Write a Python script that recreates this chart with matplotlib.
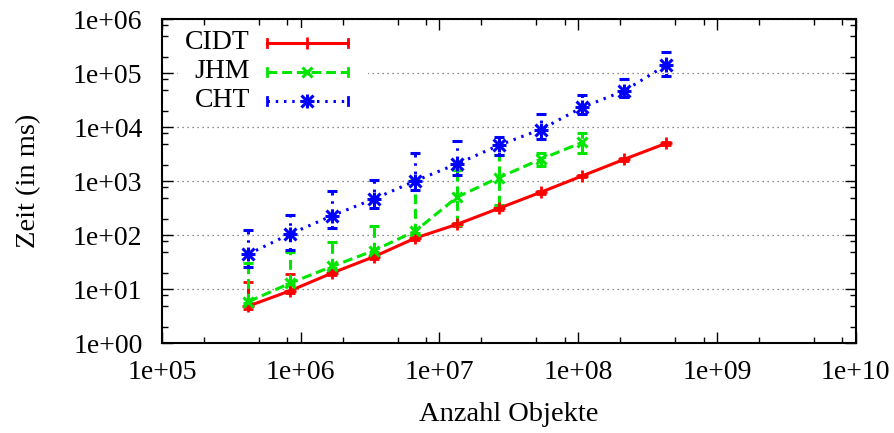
import numpy as np
import matplotlib
matplotlib.use("Agg")
import matplotlib.pyplot as plt
from matplotlib.ticker import FixedLocator, NullFormatter

# ---------------- data ----------------
n_objects = [4.2e5, 8.4e5, 1.68e6, 3.36e6, 6.7e6, 1.34e7, 2.68e7, 5.37e7, 1.07e8, 2.15e8, 4.3e8]

cidt = [4.9, 9.4, 20, 40, 89, 160, 316, 627, 1260, 2560, 5050]
cidt_low = [4.3, 8.6, 18.5, 37, 83, 150, 298, 590, 1190, 2420, 4780]
cidt_high = [13.4, 19.4, 22, 43, 95, 172, 335, 665, 1330, 2700, 5330]

jhm = [5.9, 13, 26.5, 52, 120, 510, 1170, 2560, 5270]
jhm_low = [5.5, 12.3, 25, 49, 112, 155, 365, 1920, 3390]
jhm_high = [31, 50, 74, 151, 1050, 1600, 3080, 3400, 7950]

cht = [45, 106, 230, 470, 1020, 2100, 4650, 9100, 23400, 47600, 141000]
cht_low = [26, 53, 137, 320, 700, 1320, 3100, 6100, 17400, 37000, 89000]
cht_high = [125, 240, 650, 1070, 3300, 5500, 6700, 18000, 39600, 78000, 251000]

series_names = ["CIDT", "JHM", "CHT"]

x_ticks = [1e5, 1e6, 1e7, 1e8, 1e9, 1e10]
x_ticklabels = ["1e+05", "1e+06", "1e+07", "1e+08", "1e+09", "1e+10"]
y_ticks = [1e0, 1e1, 1e2, 1e3, 1e4, 1e5, 1e6]
y_ticklabels = ["1e+00", "1e+01", "1e+02", "1e+03", "1e+04", "1e+05", "1e+06"]
x_label = "Anzahl Objekte"
y_label = "Zeit (in ms)"

# ---------------- style ----------------
plt.rcParams['font.family'] = ['Liberation Serif', 'DejaVu Serif']
FS = 20

W, H = 895, 433
L, R, T, B = 162, 855.7, 19.3, 343.3

fig = plt.figure(figsize=(W / 100, H / 100), dpi=100)
ax = fig.add_axes([L / W, (H - B) / H, (R - L) / W, (B - T) / H])
ax.set_xscale('log')
ax.set_yscale('log')
ax.set_xlim(1e5, 1e10)
ax.set_ylim(1e0, 1e6)

red = '#ff0000'
green = '#00e600'
blue = '#0000ff'
lw = 2.2

styles = [
    dict(color=red, ls='-', marker='+', ms=9, mew=2.0),
    dict(color=green, ls=(0, (3.2, 1.6)), marker='x', ms=7, mew=2.2),
    dict(color=blue, ls=(0, (0.8, 1.9)), marker='+', ms=10, mew=2.2),
]

data = [
    (n_objects[:len(cidt)], cidt, cidt_low, cidt_high),
    (n_objects[:len(jhm)], jhm, jhm_low, jhm_high),
    (n_objects[:len(cht)], cht, cht_low, cht_high),
]

for i, ((xs, ys, lo, hi), st) in enumerate(zip(data, styles)):
    ys_a = np.array(ys, float)
    yerr = [ys_a - np.array(lo, float), np.array(hi, float) - ys_a]
    line, caps, bars = ax.errorbar(xs, ys, yerr=yerr, color=st['color'], ls=st['ls'],
                                   lw=lw, marker=st['marker'], ms=st['ms'], mew=st['mew'],
                                   capsize=3.5, capthick=2.0, elinewidth=lw, zorder=3)
    for b in bars:
        b.set_linestyle(st['ls'])
    if i == 2:
        # gnuplot asterisk = plus + cross
        ax.plot(xs, ys, ls='none', marker='x', ms=8, mew=2.2, color=st['color'], zorder=3)

# grid
ax.yaxis.grid(True, which='major', color='#666666', lw=0.9, ls=(0, (1, 3)))
ax.set_axisbelow(True)

# ticks
ax.xaxis.set_major_locator(FixedLocator(x_ticks))
ax.yaxis.set_major_locator(FixedLocator(y_ticks))
ax.set_xticklabels(x_ticklabels)
ax.set_yticklabels(y_ticklabels)
minor_x = [d * m for d in x_ticks[:-1] for m in (2, 5, 8)]
minor_y = [d * m for d in y_ticks[:-1] for m in (2, 5, 8)]
ax.xaxis.set_minor_locator(FixedLocator(minor_x))
ax.yaxis.set_minor_locator(FixedLocator(minor_y))
ax.xaxis.set_minor_formatter(NullFormatter())
ax.yaxis.set_minor_formatter(NullFormatter())
ax.tick_params(which='both', direction='in', top=True, right=True, width=1.0, labelsize=FS)
ax.tick_params(which='major', length=8)
ax.tick_params(which='minor', length=4)
ax.tick_params(axis='x', which='major', pad=12)
ax.tick_params(axis='y', which='major', pad=14)
for s in ax.spines.values():
    s.set_linewidth(1.5)

ax.set_xlabel(x_label, fontsize=FS + 0.5, labelpad=12)
ax.set_ylabel(y_label, fontsize=FS + 0.5, labelpad=23)

# legend (gnuplot style, opaque key box without border)
def fx(px):
    return (px - L) / (R - L)

def fy(py):
    return (B - py) / (B - T)

ax.add_patch(plt.Rectangle((fx(178), fy(114)), fx(368) - fx(178), fy(28) - fy(114),
                           transform=ax.transAxes, facecolor='white', edgecolor='none', zorder=2))
rows = [42.7, 71.7, 100.7]
for i, (name, st, py) in enumerate(zip(series_names, styles, rows)):
    ax.text(fx(250), fy(py), name, transform=ax.transAxes, ha='right', va='center',
            fontsize=FS, zorder=4)
    ax.plot([fx(267), fx(348)], [fy(py), fy(py)], transform=ax.transAxes, color=st['color'],
            ls=st['ls'], lw=lw, zorder=4, clip_on=False)
    for ex in (267, 348):
        ax.plot([fx(ex), fx(ex)], [fy(py - 4), fy(py + 4)], transform=ax.transAxes,
                color=st['color'], lw=2.0, zorder=4, clip_on=False)
    ax.plot([fx(307.5)], [fy(py)], transform=ax.transAxes, color=st['color'], ls='none',
            marker=st['marker'], ms=st['ms'], mew=st['mew'], zorder=4, clip_on=False)
    if i == 2:
        ax.plot([fx(307.5)], [fy(py)], transform=ax.transAxes, color=st['color'], ls='none',
                marker='x', ms=8, mew=2.2, zorder=4, clip_on=False)

fig.savefig('out.png', dpi=100)
